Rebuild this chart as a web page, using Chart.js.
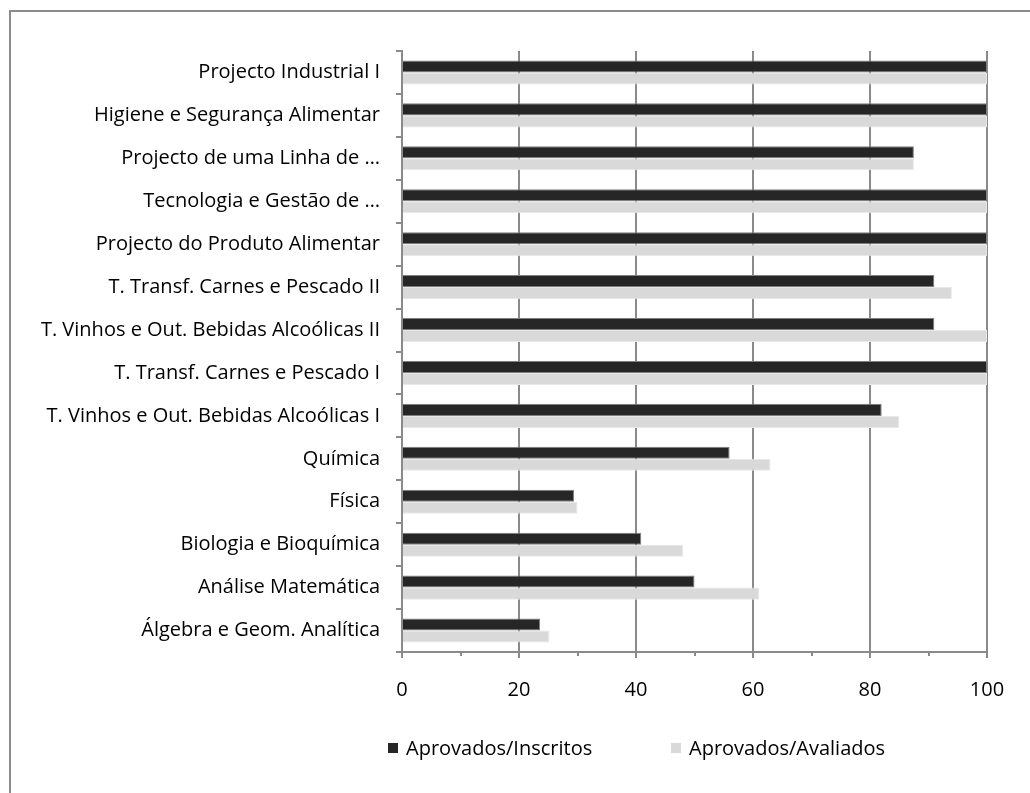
<!DOCTYPE html>
<html>
<head>
<meta charset="utf-8">
<script src="https://cdn.jsdelivr.net/npm/chart.js@4"></script>
<style>
  body { margin: 0; background: #fff; font-family: 'Open Sans', sans-serif; }
  #frame { position: absolute; left: 9px; top: 10px; width: 1040px; height: 800px; border: 2px solid #8c8c8c; box-sizing: border-box; }
  #chart { position: absolute; left: 0; top: 0; }
  .item { position: absolute; top: 737px; display: flex; align-items: center; white-space: nowrap; font-size: 20px; color: #000; line-height: 22px; }
  .swatch { width: 10px; height: 10px; margin-right: 8px; }
</style>
</head>
<body>
<div id="frame"></div>
<canvas id="chart" width="1030" height="793"></canvas>
<div id="legend"></div>
<script>
// Unidades curriculares (de cima para baixo)
const categories = [
  'Projecto Industrial I',
  'Higiene e Segurança Alimentar',
  'Projecto de uma Linha de …',
  'Tecnologia e Gestão de …',
  'Projecto do Produto Alimentar',
  'T. Transf. Carnes e Pescado II',
  'T. Vinhos e Out. Bebidas Alcoólicas II',
  'T. Transf. Carnes e Pescado I',
  'T. Vinhos e Out. Bebidas Alcoólicas I',
  'Química',
  'Física',
  'Biologia e Bioquímica',
  'Análise Matemática',
  'Álgebra e Geom. Analítica'
];

// Taxas de aprovação (%)
const aprovadosInscritos = [100, 100, 87.5, 100, 100, 91, 91, 100, 82, 56, 29.4, 40.9, 50, 23.6];
const aprovadosAvaliados = [100, 100, 87.5, 100, 100, 94, 100, 100, 85, 63, 30, 48.1, 61.1, 25.2];

const seriesNames = ['Aprovados/Inscritos', 'Aprovados/Avaliados'];
const seriesColors = ['#262626', '#d9d9d9'];
const seriesBorders = ['#7f7f7f', '#e8e8e8'];

const xTicks = [0, 20, 40, 60, 80, 100];
const xMinorTicks = [10, 30, 50, 70, 90];

const axisGrey = '#8a8a8a';
const labelFont = { family: "'Open Sans', sans-serif", size: 20 };

// small ticks between the labelled ones on the value axis
const minorTickMarks = {
  id: 'minorTickMarks',
  afterDraw(chart) {
    const scale = chart.scales.x;
    const ctx = chart.ctx;
    ctx.save();
    ctx.strokeStyle = axisGrey;
    ctx.lineWidth = 2;
    xMinorTicks.forEach(v => {
      const px = Math.round(scale.getPixelForValue(v));
      ctx.beginPath();
      ctx.moveTo(px, scale.top);
      ctx.lineTo(px, scale.top + 4);
      ctx.stroke();
    });
    ctx.restore();
  }
};

const ctx = document.getElementById('chart').getContext('2d');
const chart = new Chart(ctx, {
  type: 'bar',
  data: {
    labels: categories,
    datasets: [
      {
        label: seriesNames[0],
        data: aprovadosInscritos,
        backgroundColor: seriesColors[0],
        borderColor: seriesBorders[0],
        borderWidth: 1
      },
      {
        label: seriesNames[1],
        data: aprovadosAvaliados,
        backgroundColor: seriesColors[1],
        borderColor: seriesBorders[1],
        borderWidth: 1
      }
    ]
  },
  options: {
    indexAxis: 'y',
    responsive: false,
    devicePixelRatio: 1,
    animation: false,
    categoryPercentage: 0.56,
    barPercentage: 1,
    layout: { padding: { top: 51, right: 43, bottom: 81, left: 0 } },
    plugins: {
      legend: { display: false },
      tooltip: { enabled: false }
    },
    scales: {
      x: {
        min: 0,
        max: 100,
        afterBuildTicks: s => { s.ticks = xTicks.map(v => ({ value: v })); },
        afterFit: s => { s.height = 60; },
        grid: { color: axisGrey, lineWidth: 2, tickLength: 6, tickColor: axisGrey },
        border: { color: axisGrey, width: 2 },
        ticks: { color: '#000', font: labelFont, padding: 20, maxRotation: 0 }
      },
      y: {
        afterFit: s => { s.width = 402; },
        grid: { drawOnChartArea: false, tickLength: 6, tickColor: axisGrey, lineWidth: 2 },
        border: { color: axisGrey, width: 2 },
        ticks: { color: '#000', font: labelFont, padding: 16, autoSkip: false }
      }
    }
  },
  plugins: [minorTickMarks]
});

// legenda por baixo do gráfico
const legend = document.getElementById('legend');
const legendLeft = [388, 671];
seriesNames.forEach((name, i) => {
  const item = document.createElement('div');
  item.className = 'item';
  item.style.left = legendLeft[i] + 'px';
  const sw = document.createElement('span');
  sw.className = 'swatch';
  sw.style.background = seriesColors[i];
  const txt = document.createElement('span');
  txt.textContent = name;
  item.appendChild(sw);
  item.appendChild(txt);
  legend.appendChild(item);
});
</script>
</body>
</html>
